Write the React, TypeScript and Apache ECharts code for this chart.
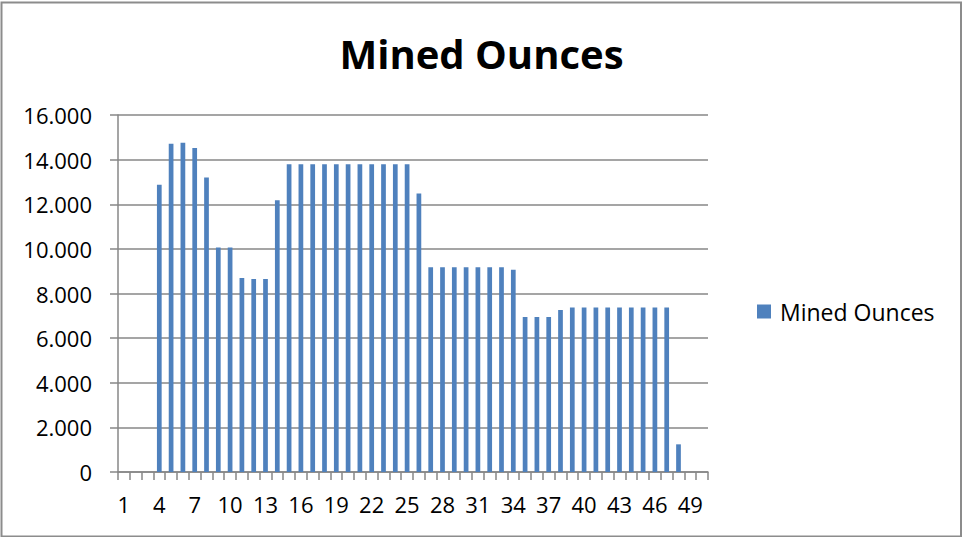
import React, { useEffect, useRef } from "react";
import * as echarts from "echarts";

const categories: string[] = Array.from({ length: 50 }, (_, i) => String(i + 1));
const minedOunces: (number | null)[] = [
  null, null, null,
  12870, 14710, 14760, 14520, 13200, 10060, 10060,
  8700, 8650, 8650, 12180,
  13790, 13790, 13790, 13790, 13790, 13790, 13790, 13790, 13790, 13790, 13790,
  12480,
  9180, 9180, 9180, 9180, 9180, 9180, 9180,
  9060,
  6950, 6950, 6950,
  7260,
  7370, 7370, 7370, 7370, 7370, 7370, 7370, 7370, 7370,
  1240,
  null, null,
];
const yTicks = { min: 0, max: 16000, interval: 2000 };

const FONT = "'Open Sans', sans-serif";
const GRAY = "#878787";

function fmt(v: number): string {
  if (v === 0) return "0";
  const s = String(Math.round(v));
  return s.replace(/\B(?=(\d{3})+(?!\d))/g, ".");
}

export default function App() {
  const ref = useRef<HTMLDivElement>(null);
  useEffect(() => {
    if (!ref.current) return;
    const chart = echarts.init(ref.current, undefined, { renderer: "svg" });
    chart.setOption({
      animation: false,
      backgroundColor: "#ffffff",
      title: {
        text: "Mined Ounces",
        left: "center",
        top: 28,
        textStyle: { fontFamily: FONT, fontSize: 40, fontWeight: "bold", color: "#000" },
      },
      legend: {
        data: ["Mined Ounces"],
        orient: "vertical",
        left: 752,
        top: 295,
        itemWidth: 14,
        itemHeight: 14,
        icon: "rect",
        itemGap: 8,
        textStyle: { fontFamily: FONT, fontSize: 23, color: "#000", padding: [0, 0, 0, 4] },
      },
      grid: { left: 118, right: 255, top: 115, bottom: 65, containLabel: false },
      xAxis: {
        type: "category",
        data: categories,
        boundaryGap: true,
        axisLine: { show: true, lineStyle: { color: GRAY, width: 1.5 } },
        axisTick: { show: true, interval: 0, alignWithLabel: false, length: 8, lineStyle: { color: GRAY, width: 1.5 } },
        axisLabel: { interval: 2, margin: 21, fontFamily: FONT, fontSize: 22, color: "#000" },
        splitLine: { show: false },
      },
      yAxis: {
        type: "value",
        min: yTicks.min,
        max: yTicks.max,
        interval: yTicks.interval,
        axisLine: { show: true, lineStyle: { color: GRAY, width: 1.5 } },
        axisTick: { show: true, length: 8, lineStyle: { color: GRAY, width: 1.5 } },
        axisLabel: { margin: 26, fontFamily: FONT, fontSize: 22, color: "#000", formatter: (v: number) => fmt(v) },
        splitLine: { show: true, lineStyle: { color: GRAY, width: 1.5 } },
      },
      series: [
        {
          name: "Mined Ounces",
          type: "bar",
          data: minedOunces,
          barWidth: "40%",
          itemStyle: { color: "#4F81BD" },
        },
      ],
      graphic: [
        {
          type: "rect",
          shape: { x: 1.5, y: 2.5, width: 959.5, height: 534 },
          style: { fill: "none", stroke: "#8c8c8c", lineWidth: 2 },
          silent: true,
        },
      ],
    });
    return () => chart.dispose();
  }, []);
  return (
    <div
      ref={ref}
      style={{ position: "fixed", left: 0, top: 0, width: 963, height: 537 }}
    />
  );
}
